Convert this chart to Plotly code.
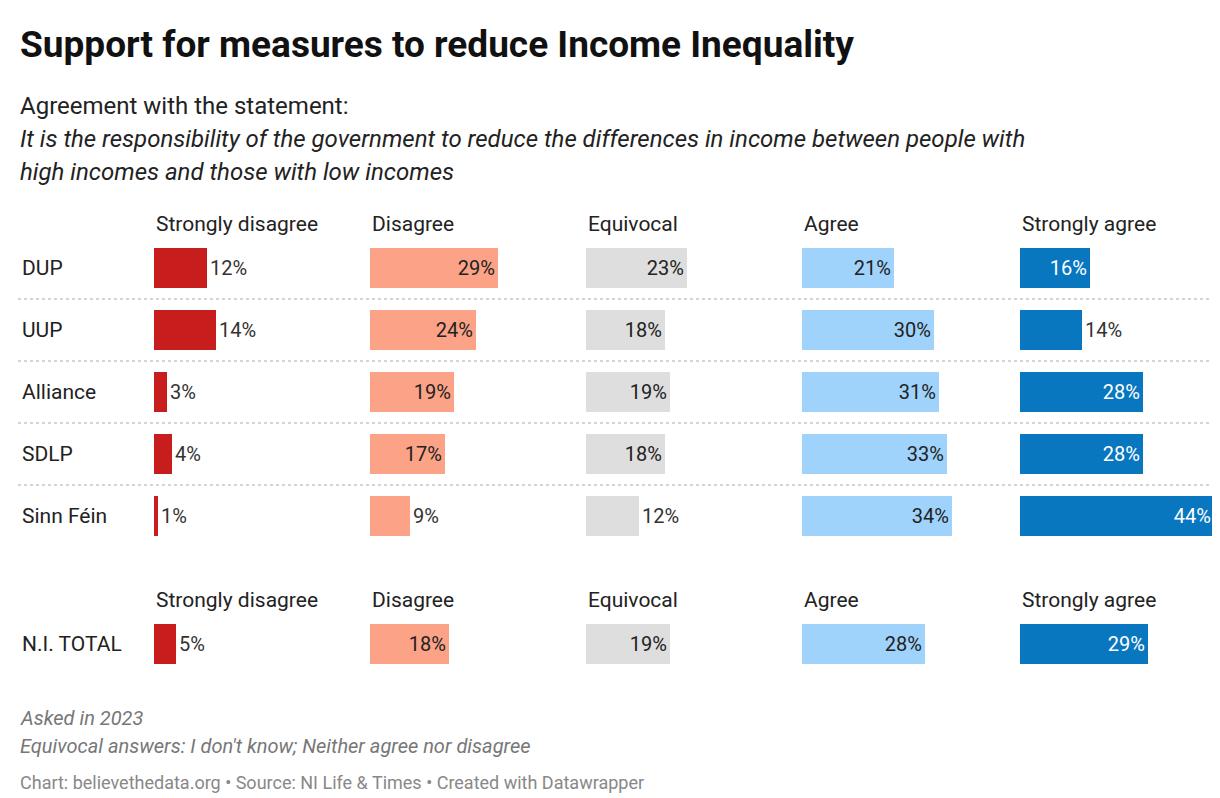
import plotly.graph_objects as go

parties = ["DUP", "UUP", "Alliance", "SDLP", "Sinn Féin"]
answers = ["Strongly disagree", "Disagree", "Equivocal", "Agree", "Strongly agree"]
party_values = {
    "Strongly disagree": [12, 14, 3, 4, 1],
    "Disagree": [29, 24, 19, 17, 9],
    "Equivocal": [23, 18, 19, 18, 12],
    "Agree": [21, 30, 31, 33, 34],
    "Strongly agree": [16, 14, 28, 28, 44],
}
total_label = ["N.I. TOTAL"]
total_values = [5, 18, 19, 28, 29]

colors = ["#c71e1d", "#fca286", "#dedede", "#9fd3fb", "#0877bf"]
inside_font = ["#222", "#222", "#222", "#222", "#ffffff"]

W, H = 1220, 798
col_x = [146, 362, 578, 794, 1012]
col_w = 196
font = "Roboto"


def ydom(top, bottom):
    return [1 - bottom / H, 1 - top / H]


fig = go.Figure()
layout = {}
for i, ans in enumerate(answers):
    xd = [col_x[i] / W, min(1.0, (col_x[i] + col_w) / W)]
    for j, (cats, vals, top, bottom) in enumerate([
        (parties, party_values[ans], 229, 539),
        (total_label, [total_values[i]], 605, 667),
    ]):
        n = i * 2 + j + 1
        xa = "x" if n == 1 else f"x{n}"
        ya = "y" if n == 1 else f"y{n}"
        inside = [v >= 15 for v in vals]
        fig.add_trace(go.Bar(
            x=vals, y=cats, orientation="h", xaxis=xa, yaxis=ya,
            marker=dict(color=colors[i], line=dict(width=0)), width=0.645,
            text=[f"{v}%" for v in vals],
            textposition=["inside" if k else "outside" for k in inside],
            insidetextanchor="end",
            textfont=dict(family=font, size=20,
                          color=[inside_font[i] if k else "#333" for k in inside]),
            cliponaxis=False, showlegend=False, hoverinfo="skip",
        ))
        key = "xaxis" if n == 1 else f"xaxis{n}"
        ykey = "yaxis" if n == 1 else f"yaxis{n}"
        layout[key] = dict(domain=xd, range=[0, 44.5], visible=False, anchor=ya, fixedrange=True)
        layout[ykey] = dict(domain=ydom(top, bottom), range=[len(cats) - 0.5, -0.5],
                            visible=False, anchor=xa, fixedrange=True)

fig.update_layout(**layout)

ann = []
for cats, top in [(parties, 229), (total_label, 605)]:
    for k, c in enumerate(cats):
        ann.append(dict(x=12 / W, y=1 - (top + 31 + 62 * k) / H, text=c, showarrow=False,
                        xanchor="left", yanchor="middle",
                        font=dict(family=font, size=21, color="#222")))
for hy in [216, 592]:
    for i, ans in enumerate(answers):
        ann.append(dict(x=col_x[i] / W, y=1 - hy / H, text=ans, showarrow=False,
                        xanchor="left", yanchor="middle",
                        font=dict(family=font, size=21, color="#222")))

ann += [
    dict(x=10 / W, y=1 - 37 / H, text="<b>Support for measures to reduce Income Inequality</b>",
         font=dict(family=font, size=37, color="#111"), yanchor="middle"),
    dict(x=10 / W, y=1 - 98 / H, text="Agreement with the statement:",
         font=dict(family=font, size=24, color="#222"), yanchor="middle"),
    dict(x=10 / W, y=1 - 131 / H,
         text="<i>It is the responsibility of the government to reduce the differences in income between people with</i>",
         font=dict(family=font, size=24, color="#222"), yanchor="middle"),
    dict(x=10 / W, y=1 - 164 / H, text="<i>high incomes and those with low incomes</i>",
         font=dict(family=font, size=24, color="#222"), yanchor="middle"),
    dict(x=10 / W, y=1 - 710 / H, text="<i>Asked in 2023</i>",
         font=dict(family=font, size=20, color="#777"), yanchor="middle"),
    dict(x=10 / W, y=1 - 738 / H, text="<i>Equivocal answers: I don't know; Neither agree nor disagree</i>",
         font=dict(family=font, size=20, color="#777"), yanchor="middle"),
    dict(x=10 / W, y=1 - 774 / H,
         text="Chart: believethedata.org • Source: NI Life &amp; Times • Created with Datawrapper",
         font=dict(family=font, size=18, color="#888"), yanchor="middle"),
]
for a in ann[-7:]:
    a.update(showarrow=False, xanchor="left")
for a in ann:
    a.setdefault("xref", "paper")
    a.setdefault("yref", "paper")

shapes = [dict(type="line", xref="paper", yref="paper", x0=10 / W, x1=1208 / W,
               y0=1 - yy / H, y1=1 - yy / H, line=dict(color="#c8c8c8", width=1.5, dash="dot"))
          for yy in [291, 353, 415, 477]]

fig.update_layout(
    width=W, height=H, margin=dict(l=0, r=0, t=0, b=0),
    paper_bgcolor="white", plot_bgcolor="white",
    annotations=ann, shapes=shapes, bargap=0,
)
fig.write_html("out.html")
